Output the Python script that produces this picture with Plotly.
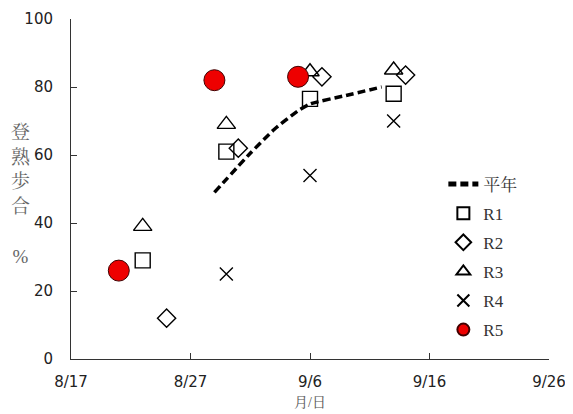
import plotly.graph_objects as go

# --- data ---
normal_dates = ["2023-08-29", "2023-09-01", "2023-09-03", "2023-09-05", "2023-09-06", "2023-09-09", "2023-09-12"]
normal_vals = [49, 60.5, 67.5, 73, 75, 77.5, 80]

r1_dates = ["2023-08-23", "2023-08-30", "2023-09-06", "2023-09-13"]
r1_vals = [29, 61, 76.5, 78]

r2_dates = ["2023-08-25", "2023-08-31", "2023-09-07", "2023-09-14"]
r2_vals = [12, 62, 83, 83.5]

r3_dates = ["2023-08-23", "2023-08-30", "2023-09-06", "2023-09-13"]
r3_vals = [39, 69, 84.5, 85]

r4_dates = ["2023-08-30", "2023-09-06", "2023-09-13"]
r4_vals = [25, 54, 70]

r5_dates = ["2023-08-21", "2023-08-29", "2023-09-05"]
r5_vals = [26, 82, 83]

tick_dates = ["2023-08-17", "2023-08-27", "2023-09-06", "2023-09-16", "2023-09-26"]
tick_labels = ["8/17", "8/27", "9/6", "9/16", "9/26"]
y_ticks = [0, 20, 40, 60, 80, 100]

serif = "Liberation Serif, Noto Serif CJK JP, serif"
sans = "DejaVu Sans, sans-serif"

fig = go.Figure()
fig.add_trace(go.Scatter(x=normal_dates, y=normal_vals, mode="lines", name="平年",
                         line=dict(color="black", width=3.5, dash="8px,4px", shape="spline", smoothing=0.6),
                         legendgroup="a"))
fig.add_trace(go.Scatter(x=r1_dates, y=r1_vals, mode="markers", name="R1", legendgroup="b",
                         marker=dict(symbol="square-open", size=15, color="black", line=dict(width=1.4))))
fig.add_trace(go.Scatter(x=r2_dates, y=r2_vals, mode="markers", name="R2", legendgroup="c",
                         marker=dict(symbol="diamond-open", size=14, color="black", line=dict(width=1.4))))
fig.add_trace(go.Scatter(x=r3_dates, y=r3_vals, mode="markers", name="R3", legendgroup="d",
                         marker=dict(symbol="triangle-up-open", size=16, color="black", line=dict(width=1.4))))
fig.add_trace(go.Scatter(x=r4_dates, y=r4_vals, mode="markers", name="R4", legendgroup="e",
                         marker=dict(symbol="x-thin-open", size=13, color="black", line=dict(width=1.4, color="black"))))
fig.add_trace(go.Scatter(x=r5_dates, y=r5_vals, mode="markers", name="R5", legendgroup="f",
                         marker=dict(symbol="circle", size=21, color="#ee0000", line=dict(width=1, color="#400000"))))

fig.update_layout(
    width=565, height=406,
    margin=dict(l=63, r=24, t=11, b=55),
    paper_bgcolor="white", plot_bgcolor="white",
    showlegend=True,
    legend=dict(x=0.779, y=0.566, xanchor="left", yanchor="top",
                font=dict(family=serif, size=17, color="#333"),
                tracegroupgap=4, bgcolor="rgba(0,0,0,0)", itemwidth=30, itemsizing="constant"),
    xaxis=dict(type="date", range=["2023-08-17", "2023-09-26"], tickvals=tick_dates, ticktext=tick_labels,
               showgrid=False, zeroline=False, showline=True, linecolor="#333", linewidth=1,
               ticks="inside", ticklen=6, tickcolor="#333", automargin=False, ticklabelstandoff=9,
               ticklabeloverflow="allow",
               tickfont=dict(family=sans, size=15, color="#222"),
               title=dict(text="月/日", font=dict(family=serif, size=14, color="#555"), standoff=7)),
    yaxis=dict(range=[0, 100], tickvals=y_ticks, showgrid=False, zeroline=False,
               showline=True, linecolor="#333", linewidth=1, automargin=False,
               ticks="inside", ticklen=6, tickcolor="#333", ticklabelstandoff=14,
               ticklabeloverflow="allow",
               tickfont=dict(family=sans, size=15, color="#222")),
)
fig.add_annotation(xref="paper", yref="paper", x=-0.105, y=0.485, xanchor="center", yanchor="middle",
                   showarrow=False, text="登<br>熟<br>歩<br>合<br><br>%",
                   font=dict(family=serif, size=19, color="#666"))

fig.write_html("out.html")
